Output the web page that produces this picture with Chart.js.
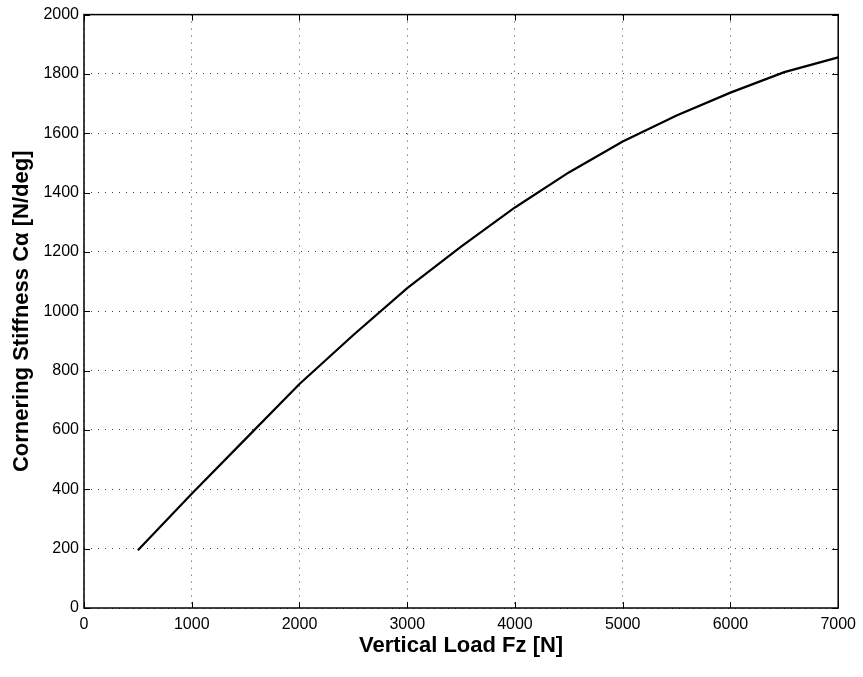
<!DOCTYPE html>
<html>
<head>
<meta charset="utf-8">
<script src="https://cdn.jsdelivr.net/npm/chart.js@4/dist/chart.umd.min.js"></script>
<style>
  html, body { margin: 0; padding: 0; background: #fff; }
  #wrap { width: 863px; height: 677px; }
</style>
</head>
<body>
<div id="wrap"><canvas id="stiffChart" width="863" height="677"></canvas></div>
<script>
// vertical load [N] and cornering stiffness [N/deg]
const loadFz = [500, 1000, 1500, 2000, 2500, 3000, 3500, 4000, 4500, 5000, 5500, 6000, 6500, 7000];
const stiffness = [195, 385, 570, 755, 920, 1078, 1218, 1350, 1468, 1572, 1660, 1737, 1806, 1856];
const xTicks = [0, 1000, 2000, 3000, 4000, 5000, 6000, 7000];
const yTicks = [0, 200, 400, 600, 800, 1000, 1200, 1400, 1600, 1800, 2000];

// matlab style box with inward tick marks on all four sides
const boxTicks = {
  id: 'boxTicks',
  afterDatasetsDraw(chart) {
    const { ctx, chartArea: a, scales } = chart;
    const len = 6;
    ctx.save();
    ctx.strokeStyle = '#000';
    ctx.lineWidth = 1;
    ctx.beginPath();
    xTicks.forEach(v => {
      const px = Math.round(scales.x.getPixelForValue(v)) + 0.5;
      ctx.moveTo(px, a.bottom); ctx.lineTo(px, a.bottom - len);
      ctx.moveTo(px, a.top); ctx.lineTo(px, a.top + len);
    });
    yTicks.forEach(v => {
      const py = Math.round(scales.y.getPixelForValue(v)) + 0.5;
      ctx.moveTo(a.left, py); ctx.lineTo(a.left + len, py);
      ctx.moveTo(a.right, py); ctx.lineTo(a.right - len, py);
    });
    ctx.stroke();
    ctx.lineWidth = 1.5;
    ctx.strokeRect(a.left, a.top, a.right - a.left, a.bottom - a.top);
    ctx.restore();
  }
};

const ctx = document.getElementById('stiffChart').getContext('2d');
const stiffChart = new Chart(ctx, {
  type: 'line',
  data: {
    datasets: [{
      label: 'C alpha',
      data: loadFz.map((x, i) => ({ x: x, y: stiffness[i] })),
      borderColor: '#000',
      borderWidth: 2.2,
      pointRadius: 0,
      fill: false,
      tension: 0
    }]
  },
  options: {
    responsive: false,
    animation: false,
    layout: { padding: { left: 0, right: 23, top: 12, bottom: 18 } },
    plugins: {
      legend: { display: false },
      tooltip: { enabled: false }
    },
    scales: {
      x: {
        type: 'linear',
        min: 0,
        max: 7000,
        afterBuildTicks: s => { s.ticks = xTicks.map(v => ({ value: v })); },
        afterFit: s => { s.height = 51; },
        grid: { color: 'rgba(0,0,0,0.75)', lineWidth: 1, drawTicks: false },
        // in v4 border.dash is what dashes the grid lines (matlab ':')
        border: { display: false, dash: [1, 6] },
        ticks: {
          color: '#000', padding: 7, maxRotation: 0,
          callback: v => String(v),
          font: { family: 'Liberation Sans, Arial', size: 16 }
        },
        title: {
          display: true,
          text: 'Vertical Load Fz [N]',
          color: '#000',
          padding: { top: 0, bottom: 0 },
          font: { family: 'Liberation Sans, Arial', size: 22, weight: 'bold' }
        }
      },
      y: {
        type: 'linear',
        min: 0,
        max: 2000,
        afterBuildTicks: s => { s.ticks = yTicks.map(v => ({ value: v })); },
        afterFit: s => { s.width = 84; },
        grid: { color: 'rgba(0,0,0,0.75)', lineWidth: 1, drawTicks: false },
        border: { display: false, dash: [1, 6] },
        ticks: {
          color: '#000', padding: 5,
          callback: v => String(v),
          font: { family: 'Liberation Sans, Arial', size: 16 }
        },
        title: {
          display: true,
          text: 'Cornering Stiffness C\u03b1 [N/deg]',
          color: '#000',
          padding: { top: 9, bottom: 0 },
          font: { family: 'Liberation Sans, Arial', size: 22, weight: 'bold' }
        }
      }
    }
  },
  plugins: [boxTicks]
});
</script>
</body>
</html>
